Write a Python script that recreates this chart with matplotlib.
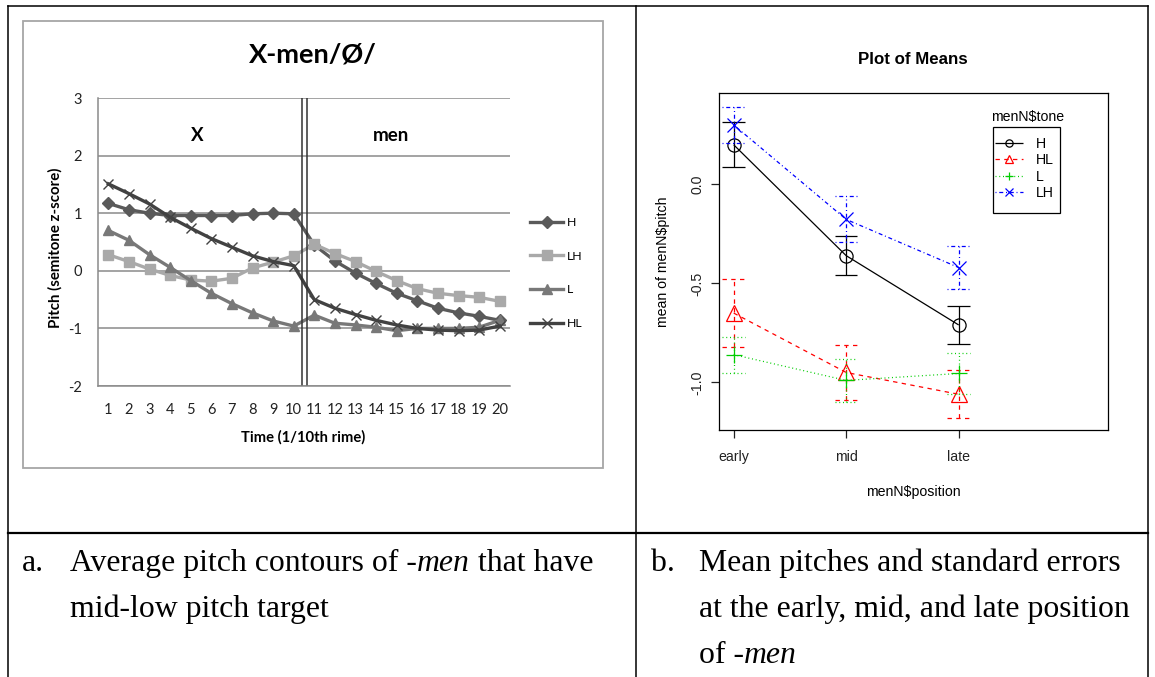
import matplotlib
matplotlib.use('Agg')
import matplotlib.pyplot as plt
from matplotlib.lines import Line2D
from matplotlib.patches import Rectangle

plt.rcParams['axes.unicode_minus'] = False

W, H = 1155, 677

# Panel a: averaged pitch contours over 20 time points of the rime
time_points = list(range(1, 21))
h_pitch = [1.17, 1.06, 1.00, 0.96, 0.96, 0.96, 0.96, 0.99, 1.00, 0.99,
           0.45, 0.17, -0.04, -0.22, -0.39, -0.52, -0.65, -0.73, -0.79, -0.86]
lh_pitch = [0.28, 0.16, 0.03, -0.08, -0.16, -0.18, -0.13, 0.05, 0.15, 0.26,
            0.46, 0.30, 0.16, -0.01, -0.17, -0.31, -0.39, -0.43, -0.46, -0.53]
l_pitch = [0.70, 0.53, 0.28, 0.06, -0.17, -0.39, -0.57, -0.73, -0.87, -0.96,
           -0.77, -0.91, -0.94, -0.98, -1.04, -1.00, -1.00, -1.00, -0.98, -0.86]
hl_pitch = [1.51, 1.34, 1.16, 0.93, 0.74, 0.56, 0.41, 0.26, 0.16, 0.09,
            -0.50, -0.65, -0.76, -0.86, -0.94, -1.00, -1.03, -1.04, -1.03, -0.96]
contour_names = ['H', 'LH', 'L', 'HL']
syllable_break = [10.39, 10.66]

# Panel b: means and standard errors by position within -men
positions = ['early', 'mid', 'late']
tone_levels = ['H', 'HL', 'L', 'LH']
h_mean = [0.20, -0.36, -0.71]
h_se = [0.113, 0.098, 0.094]
hl_mean = [-0.65, -0.95, -1.06]
hl_se = [0.172, 0.138, 0.122]
l_mean = [-0.86, -0.99, -0.955]
l_se = [0.091, 0.108, 0.105]
lh_mean = [0.30, -0.177, -0.42]
lh_se = [0.093, 0.116, 0.11]

R_SIZE = 10.2


def fx(x):
    return x / W


def fy(y):
    return 1 - y / H


def draw_table(fig):
    '''Cell borders around the two panels and their captions.'''
    border = dict(color='black', lw=1.1, transform=fig.transFigure)
    fig.add_artist(Line2D([fx(8), fx(8)], [fy(6), fy(677)], **border))
    fig.add_artist(Line2D([fx(8), fx(1148)], [fy(6), fy(6)], **border))
    fig.add_artist(Line2D([fx(636), fx(636)], [fy(6), fy(677)], **border))
    fig.add_artist(Line2D([fx(1148), fx(1148)], [fy(6), fy(677)], **border))
    fig.add_artist(Line2D([fx(8), fx(1148)], [fy(533), fy(533)],
                          color='black', lw=1.6, transform=fig.transFigure))


def caption_line(fig, x, y, pieces, size=22.9):
    '''Writes a caption line made of plain and italic pieces.'''
    renderer = fig.canvas.get_renderer()
    probe1 = fig.text(0, 0, 'n n', family='Liberation Serif', fontsize=size)
    probe2 = fig.text(0, 0, 'nn', family='Liberation Serif', fontsize=size)
    space = (probe1.get_window_extent(renderer).width -
             probe2.get_window_extent(renderer).width)
    probe1.remove()
    probe2.remove()
    for text, italic, gap in pieces:
        if gap:
            x += space
        t = fig.text(fx(x), fy(y), text, family='Liberation Serif',
                     style='italic' if italic else 'normal', fontsize=size,
                     va='baseline', ha='left')
        x += t.get_window_extent(renderer).width


def plot_contours(fig):
    '''Excel style line chart of the four averaged contours.'''
    fig.add_artist(Rectangle((fx(23), fy(468)), fx(580), 447 / H,
                             transform=fig.transFigure, fill=False,
                             edgecolor='#a6a6a6', lw=1.3))
    ax = fig.add_axes([fx(98), fy(386), fx(412), 288 / H])
    styles = [('#5a5a5a', 'D', 6), ('#a9a9a9', 's', 7.5),
              ('#787878', '^', 7.5), ('#424242', 'x', 7.5)]
    series = [h_pitch, lh_pitch, l_pitch, hl_pitch]
    handles = []
    for name, values, (color, marker, size) in zip(contour_names, series,
                                                   styles):
        line, = ax.plot(time_points, values, color=color, lw=2.4,
                        marker=marker, ms=size, mew=1.0, label=name)
        handles.append(line)
    for x in syllable_break:
        ax.axvline(x, color='#333333', lw=1.1)
    ax.set_xlim(0.5, 20.5)
    ax.set_ylim(-2, 3)
    ax.set_yticks(range(-2, 4))
    ax.set_xticks(time_points)
    ax.yaxis.grid(True, color='#8a8a8a', lw=1.1)
    ax.set_axisbelow(True)
    for side in ['top', 'right']:
        ax.spines[side].set_visible(False)
    for side in ['left', 'bottom']:
        ax.spines[side].set_color('#8a8a8a')
        ax.spines[side].set_linewidth(1.1)
    ax.tick_params(length=0, labelsize=10.5, colors='#222222')
    ax.tick_params(axis='x', pad=12)
    ax.tick_params(axis='y', pad=11.5)
    for lab in ax.get_xticklabels() + ax.get_yticklabels():
        lab.set_family('Lato')
    ax.text(5.3, 2.35, 'X', family='Lato', weight='bold', fontsize=13.5,
            ha='center', va='center')
    ax.text(14.7, 2.35, 'men', family='Lato', weight='bold', fontsize=13.5,
            ha='center', va='center')
    fig.text(fx(313), fy(55), 'X-men/Ø/', family='Lato', weight='bold',
             fontsize=19.5, ha='center', va='center')
    fig.text(fx(55), fy(248), 'Pitch (semitone z-score)', family='Lato',
             weight='bold', fontsize=10.8, rotation=90, ha='center',
             va='center')
    fig.text(fx(303), fy(437), 'Time (1/10th rime)', family='Lato',
             weight='bold', fontsize=10.6, ha='center', va='center')
    ax.legend(handles=handles, loc='upper left', frameon=False,
              bbox_to_anchor=(fx(530), fy(217)),
              bbox_transform=fig.transFigure, borderpad=0, borderaxespad=0,
              handlelength=2.7, handletextpad=0.3, labelspacing=1.85,
              prop={'family': 'Lato', 'size': 8.8})


def plot_means(fig):
    '''R style plot of means with standard error bars.'''
    ax = fig.add_axes([fx(719.3), fy(430.3), fx(389), 337 / H])
    x = [1, 2, 3]
    styles = [('black', (0, ()), 'o', 9.5),
              ('red', (0, (3.5, 3.5)), '^', 11),
              ('#00cd00', (0, (0.8, 2.2)), '+', 11),
              ('blue', (0, (0.8, 2.2, 3.2, 2.2)), 'x', 10)]
    means = [h_mean, hl_mean, l_mean, lh_mean]
    errors = [h_se, hl_se, l_se, lh_se]
    handles = []
    for name, m, se, (color, ls, marker, size) in zip(tone_levels, means,
                                                      errors, styles):
        ax.plot(x, m, color=color, linestyle=ls, lw=0.9, marker=marker,
                ms=size, mfc='none', mew=0.9)
        low = [a - b for a, b in zip(m, se)]
        high = [a + b for a, b in zip(m, se)]
        ax.vlines(x, low, high, color=color, linestyle=ls, lw=0.9)
        ax.hlines(low, [v - 0.1 for v in x], [v + 0.1 for v in x],
                  color=color, linestyle=ls, lw=0.9)
        ax.hlines(high, [v - 0.1 for v in x], [v + 0.1 for v in x],
                  color=color, linestyle=ls, lw=0.9)
        handles.append(Line2D([], [], color=color, linestyle=ls, lw=0.9,
                              marker=marker, ms=size * 0.55, mfc='none',
                              mew=0.9, label=name))
    ax.set_xlim(0.872, 4.33)
    ax.set_ylim(-1.242, 0.46)
    ax.set_xticks(x)
    ax.set_xticklabels(positions)
    ax.set_yticks([0.0, -0.5, -1.0])
    ax.set_yticklabels(['0.0', '-0.5', '-1.0'], rotation=90, va='center')
    for spine in ax.spines.values():
        spine.set_linewidth(0.9)
    ax.tick_params(direction='out', length=5.5, width=0.9, labelsize=R_SIZE,
                   colors='#222222')
    ax.tick_params(axis='x', pad=8.5)
    ax.tick_params(axis='y', pad=5)
    for lab in ax.get_xticklabels() + ax.get_yticklabels():
        lab.set_family('Liberation Sans')
    fig.text(fx(913), fy(59), 'Plot of Means', family='Liberation Sans',
             weight='bold', fontsize=12.2, ha='center', va='center')
    fig.text(fx(913), fy(492), r'menN\$position', family='Liberation Sans',
             fontsize=R_SIZE, ha='center', va='center')
    fig.text(fx(663), fy(262), r'mean of menN\$pitch',
             family='Liberation Sans', fontsize=R_SIZE, rotation=90,
             ha='center', va='center')
    fig.text(fx(1028), fy(117), r'menN\$tone', family='Liberation Sans',
             fontsize=R_SIZE, ha='center', va='center')
    # legend box drawn separately: R pads it more vertically than sideways
    fig.add_artist(Rectangle((fx(992.7), fy(213.3)), fx(67.6), 86 / H,
                             transform=fig.transFigure, fill=False,
                             edgecolor='black', lw=0.9))
    ax.legend(handles=handles, loc='upper left',
              bbox_to_anchor=(fx(995), fy(136.5)),
              bbox_transform=fig.transFigure, frameon=False,
              borderpad=0, borderaxespad=0, handlelength=1.95,
              handletextpad=0.92, labelspacing=0.18,
              prop={'family': 'Liberation Sans', 'size': R_SIZE})


def main():
    fig = plt.figure(figsize=(W / 100, H / 100), dpi=100)
    draw_table(fig)
    plot_contours(fig)
    plot_means(fig)
    caption_line(fig, 22, 571, [('a.', False, False)])
    caption_line(fig, 70, 571, [('Average pitch contours of -', False, False),
                                ('men', True, False),
                                ('that have', False, True)])
    caption_line(fig, 70, 617, [('mid-low pitch target', False, False)])
    caption_line(fig, 651, 571, [('b.', False, False)])
    caption_line(fig, 699, 571, [('Mean pitches and standard errors',
                                  False, False)])
    caption_line(fig, 699, 617, [('at the early, mid, and late position',
                                  False, False)])
    caption_line(fig, 699, 663, [('of -', False, False), ('men', True, False)])
    fig.savefig('out.png', dpi=100)


if __name__ == '__main__':
    main()
